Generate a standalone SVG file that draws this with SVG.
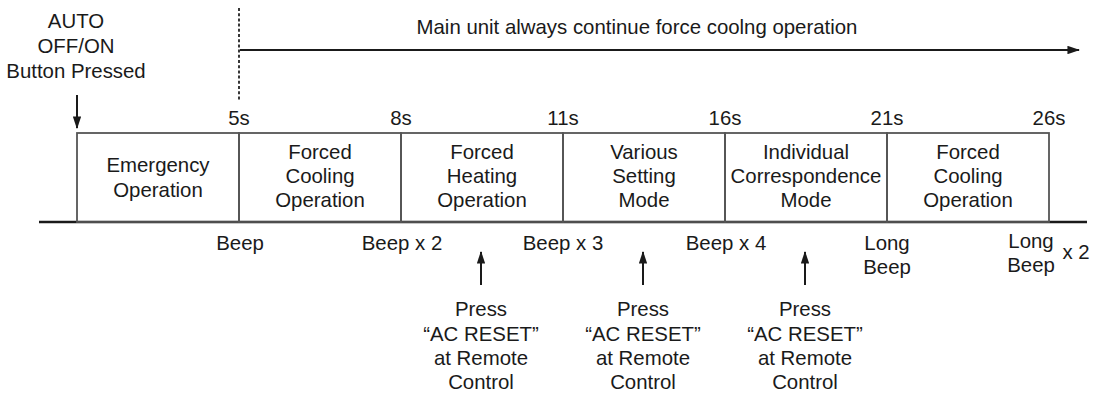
<svg xmlns="http://www.w3.org/2000/svg" width="1094" height="394" viewBox="0 0 1094 394">
<style>
text{font-family:"Liberation Sans",Arial,sans-serif;font-size:20.4px;fill:#1a1a1a;text-anchor:middle}
.box{fill:none;stroke:#555;stroke-width:1.8}
.axis{stroke:#1a1a1a;stroke-width:2.6}
.arr{stroke:#1a1a1a;stroke-width:2;fill:none}
</style>
<defs>
<marker id="ah" viewBox="0 0 12 8" refX="11" refY="4" markerWidth="6.5" markerHeight="4.2" markerUnits="strokeWidth" orient="auto">
<path d="M0,0 L12,4 L0,8 z" fill="#1a1a1a"/>
</marker>
</defs>
<g id="header">
<text x="76" y="28">AUTO</text>
<text x="76" y="53">OFF/ON</text>
<text x="76" y="78">Button Pressed</text>
<text x="637" y="34">Main unit always continue force coolng operation</text>
</g>
<g id="connectors">
<line x1="239" y1="8" x2="239" y2="100" stroke="#222" stroke-width="1.8" stroke-dasharray="3,2.2"/>
<line class="arr" x1="240" y1="50" x2="1079" y2="50" marker-end="url(#ah)"/>
<line class="arr" x1="77" y1="95" x2="77" y2="128" marker-end="url(#ah)"/>
<line class="arr" x1="481" y1="285" x2="481" y2="252" marker-end="url(#ah)"/>
<line class="arr" x1="643" y1="285" x2="643" y2="252" marker-end="url(#ah)"/>
<line class="arr" x1="805" y1="285" x2="805" y2="252" marker-end="url(#ah)"/>
<line class="axis" x1="39" y1="222" x2="1087" y2="222"/>
</g>
<g id="times">
<text x="239" y="125">5s</text>
<text x="401" y="125">8s</text>
<text x="563" y="125">11s</text>
<text x="725" y="125">16s</text>
<text x="887" y="125">21s</text>
<text x="1049" y="125">26s</text>
</g>
<g id="node-emergency">
<rect class="box" x="77" y="133" width="162" height="89"/>
<text x="158" y="172">Emergency</text>
<text x="158" y="197">Operation</text>
</g>
<g id="node-cooling1">
<rect class="box" x="239" y="133" width="162" height="89"/>
<text x="320" y="159">Forced</text>
<text x="320" y="183">Cooling</text>
<text x="320" y="207">Operation</text>
</g>
<g id="node-heating">
<rect class="box" x="401" y="133" width="162" height="89"/>
<text x="482" y="159">Forced</text>
<text x="482" y="183">Heating</text>
<text x="482" y="207">Operation</text>
</g>
<g id="node-various">
<rect class="box" x="563" y="133" width="162" height="89"/>
<text x="644" y="159">Various</text>
<text x="644" y="183">Setting</text>
<text x="644" y="207">Mode</text>
</g>
<g id="node-individual">
<rect class="box" x="725" y="133" width="162" height="89"/>
<text x="806" y="159">Individual</text>
<text x="806" y="183">Correspondence</text>
<text x="806" y="207">Mode</text>
</g>
<g id="node-cooling2">
<rect class="box" x="887" y="133" width="162" height="89"/>
<text x="968" y="159">Forced</text>
<text x="968" y="183">Cooling</text>
<text x="968" y="207">Operation</text>
</g>
<g id="beeps">
<text x="240" y="250">Beep</text>
<text x="402" y="250">Beep x 2</text>
<text x="563" y="250">Beep x 3</text>
<text x="726" y="250">Beep x 4</text>
<text x="887" y="250">Long</text>
<text x="887" y="274">Beep</text>
<text x="1031" y="248">Long</text>
<text x="1031" y="272">Beep</text>
<text x="1076" y="259">x 2</text>
</g>
<g id="press1">
<text x="481" y="316">Press</text>
<text x="481" y="341">“AC RESET”</text>
<text x="481" y="365">at Remote</text>
<text x="481" y="389">Control</text>
</g>
<g id="press2">
<text x="643" y="316">Press</text>
<text x="643" y="341">“AC RESET”</text>
<text x="643" y="365">at Remote</text>
<text x="643" y="389">Control</text>
</g>
<g id="press3">
<text x="805" y="316">Press</text>
<text x="805" y="341">“AC RESET”</text>
<text x="805" y="365">at Remote</text>
<text x="805" y="389">Control</text>
</g>
</svg>
